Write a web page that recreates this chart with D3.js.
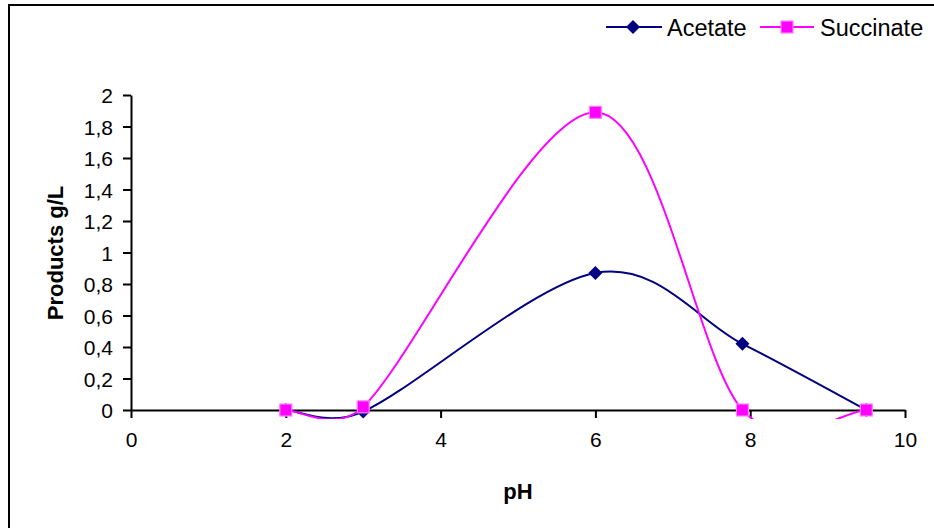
<!DOCTYPE html>
<html>
<head>
<meta charset="utf-8">
<script src="https://cdn.jsdelivr.net/npm/d3@7"></script>
<style>
  html, body { margin: 0; padding: 0; background: #fff; }
  svg { display: block; font-family: Arial, "Liberation Sans", sans-serif; }
</style>
</head>
<body>
<svg id="chart" width="934" height="528"></svg>
<script>
// pH values of the runs
const phValues = [2, 3, 6, 7.9, 9.5];
// product concentrations, g/L
const acetate = [0, -0.01, 0.87, 0.42, 0];
const succinate = [0, 0.02, 1.89, 0, 0];
const seriesNames = ["Acetate", "Succinate"];
const xTicks = [0, 2, 4, 6, 8, 10];
const yTicks = [0, 0.2, 0.4, 0.6, 0.8, 1, 1.2, 1.4, 1.6, 1.8, 2];

const svg = d3.select("#chart");
const colors = { Acetate: "#000080", Succinate: "#ff00ff" };
const FONT = "Arial, 'Liberation Sans', sans-serif";

// outer frame
svg.append("rect").attr("x", 9).attr("y", 5).attr("width", 940).attr("height", 540)
  .attr("fill", "none").attr("stroke", "#000").attr("stroke-width", 2);

const x = d3.scaleLinear().domain([0, 10]).range([131, 905]);
const y = d3.scaleLinear().domain([0, 2]).range([410, 95]);

const fmt = d => d3.format("")(d).replace(".", ",");

// y axis
const yAxis = svg.append("g").attr("transform", `translate(${x(0)},0)`)
  .call(d3.axisLeft(y).tickValues(yTicks).tickSize(8).tickSizeOuter(0).tickPadding(10).tickFormat(fmt));
yAxis.select(".domain").attr("stroke-width", 2);
yAxis.selectAll(".tick line").attr("stroke-width", 2);
yAxis.selectAll("text").attr("font-size", 21).attr("fill", "#000")
  .attr("font-family", FONT).attr("dy", "0.36em");

// x axis crossing at y = 0
const xAxis = svg.append("g").attr("transform", `translate(0,${y(0)})`)
  .call(d3.axisBottom(x).tickValues(xTicks).tickSize(8).tickSizeOuter(0).tickPadding(14).tickFormat(d3.format("d")));
xAxis.select(".domain").attr("stroke-width", 2);
xAxis.selectAll(".tick line").attr("stroke-width", 2);
xAxis.selectAll("text").attr("font-size", 21).attr("fill", "#000")
  .attr("font-family", FONT);

// axis titles
svg.append("text").attr("x", 518).attr("y", 499).attr("text-anchor", "middle")
  .attr("font-size", 22).attr("font-weight", "bold").text("pH");
svg.append("text").attr("transform", "translate(63,253) rotate(-90)").attr("text-anchor", "middle")
  .attr("font-size", 22).attr("font-weight", "bold").text("Products g/L");

// clip for curves
svg.append("clipPath").attr("id", "plotClip").append("rect")
  .attr("x", x(0)).attr("y", 80).attr("width", x(10) - x(0)).attr("height", 419 - 80);

// smoothed line: cubic Bezier segments whose control arms are 1/6 of the
// neighbour chord, capped at half of the segment length
function smoothPath(pts) {
  const p = d3.path();
  const n = pts.length;
  const dist = (a, b) => Math.hypot(b[0] - a[0], b[1] - a[1]);
  p.moveTo(pts[0][0], pts[0][1]);
  for (let i = 0; i < n - 1; i++) {
    const P0 = pts[Math.max(i - 1, 0)], P1 = pts[i], P2 = pts[i + 1], P3 = pts[Math.min(i + 2, n - 1)];
    const d12 = dist(P1, P2), d02 = dist(P0, P2), d13 = dist(P1, P3);
    let f1 = 1 / 6, f2 = 1 / 6;
    if (d02 / 6 > d12 / 2) f1 = d12 / (2 * d02);
    if (d13 / 6 > d12 / 2) f2 = d12 / (2 * d13);
    const c1 = [P1[0] + (P2[0] - P0[0]) * f1, P1[1] + (P2[1] - P0[1]) * f1];
    const c2 = [P2[0] - (P3[0] - P1[0]) * f2, P2[1] - (P3[1] - P1[1]) * f2];
    p.bezierCurveTo(c1[0], c1[1], c2[0], c2[1], P2[0], P2[1]);
  }
  return p.toString();
}

const series = [
  { name: "Acetate", values: acetate },
  { name: "Succinate", values: succinate }
];

series.forEach(s => {
  const pts = phValues.map((p, i) => [x(p), y(s.values[i])]);
  svg.append("path").attr("d", smoothPath(pts)).attr("fill", "none")
    .attr("stroke", colors[s.name]).attr("stroke-width", 2).attr("clip-path", "url(#plotClip)");
});

function diamond(g, cx, cy) {
  const r = 7;
  g.append("path").attr("d", `M${cx},${cy - r}L${cx + r},${cy}L${cx},${cy + r}L${cx - r},${cy}Z`)
    .attr("fill", colors.Acetate);
}
function square(g, cx, cy) {
  g.append("rect").attr("x", cx - 6).attr("y", cy - 6).attr("width", 12).attr("height", 12)
    .attr("fill", colors.Succinate).attr("stroke", "#ff80ff").attr("stroke-width", 1.2);
}

const markers = svg.append("g");
phValues.forEach((p, i) => diamond(markers, x(p), y(acetate[i])));
phValues.forEach((p, i) => square(markers, x(p), y(succinate[i])));

// legend
const lg = svg.append("g");
lg.append("line").attr("x1", 606).attr("x2", 662).attr("y1", 27).attr("y2", 27)
  .attr("stroke", colors.Acetate).attr("stroke-width", 2);
diamond(lg, 633, 27);
lg.append("text").attr("x", 667).attr("y", 36).attr("font-size", 23.5).text(seriesNames[0]);
lg.append("line").attr("x1", 760).attr("x2", 814).attr("y1", 27).attr("y2", 27)
  .attr("stroke", colors.Succinate).attr("stroke-width", 2);
square(lg, 787, 27);
lg.append("text").attr("x", 820).attr("y", 36).attr("font-size", 23.5).text(seriesNames[1]);
</script>
</body>
</html>
